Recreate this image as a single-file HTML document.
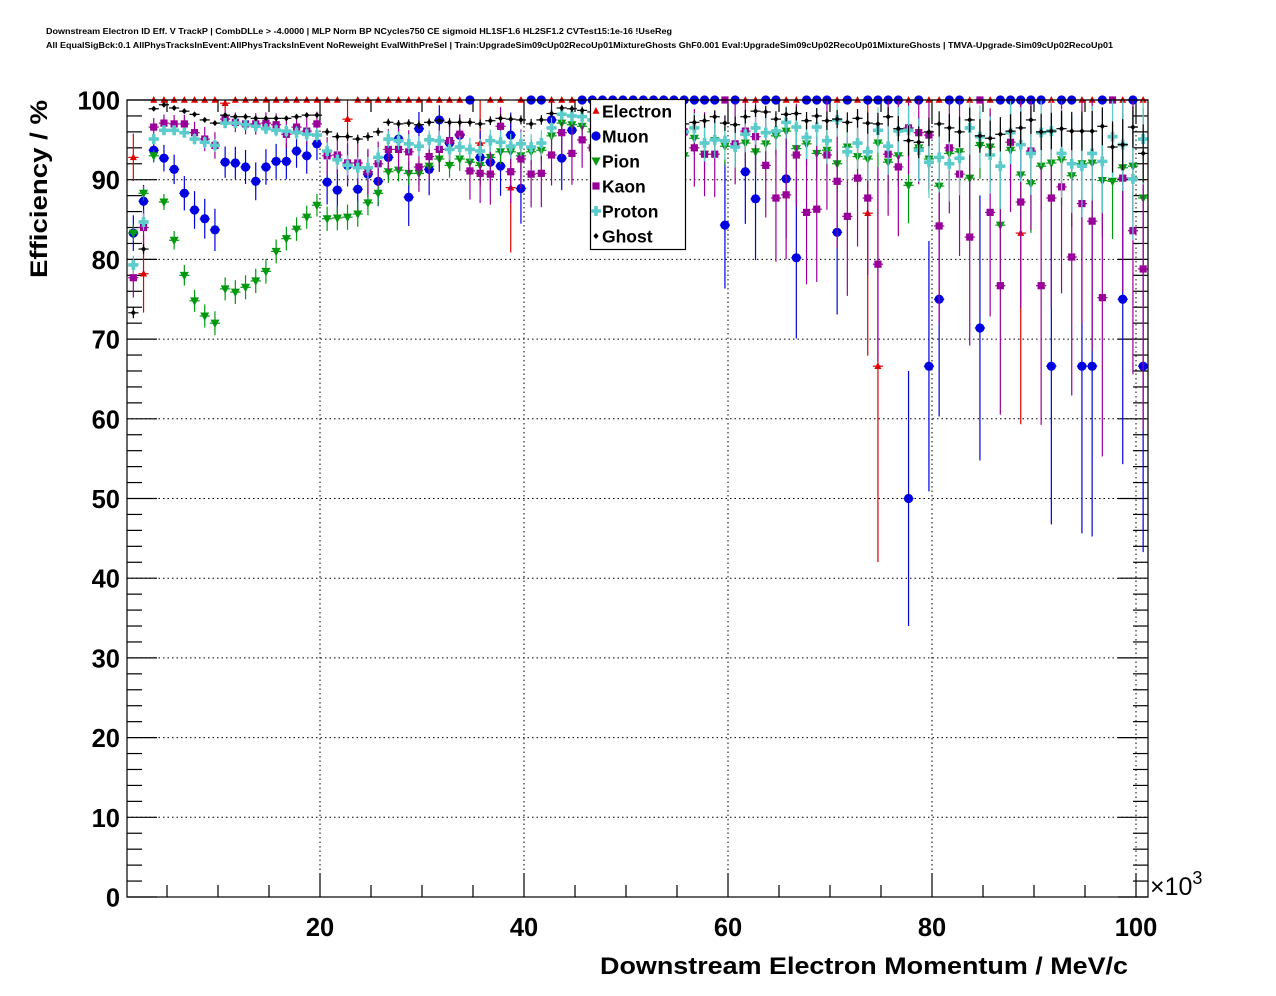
<!DOCTYPE html>
<html><head><meta charset="utf-8"><style>
html,body{margin:0;padding:0;background:#fff;}
svg{display:block;font-family:"Liberation Sans",Arial,sans-serif;}
</style></head><body>
<svg id="chart" width="1276" height="996" viewBox="0 0 1276 996" xmlns="http://www.w3.org/2000/svg">
<rect x="0" y="0" width="1276" height="996" fill="#fff"/>
<text x="46" y="34" font-size="8" font-weight="bold" textLength="626" lengthAdjust="spacingAndGlyphs">Downstream Electron ID Eff. V TrackP | CombDLLe &gt; -4.0000 | MLP Norm BP NCycles750 CE sigmoid HL1SF1.6 HL2SF1.2 CVTest15:1e-16 !UseReg</text>
<text x="46" y="48" font-size="8" font-weight="bold" textLength="1067" lengthAdjust="spacingAndGlyphs">All EqualSigBck:0.1 AllPhysTracksInEvent:AllPhysTracksInEvent NoReweight EvalWithPreSel | Train:UpgradeSim09cUp02RecoUp01MixtureGhosts GhF0.001 Eval:UpgradeSim09cUp02RecoUp01MixtureGhosts | TMVA-Upgrade-Sim09cUp02RecoUp01</text>
<g id="grid"></g>
<g id="axes"></g>
<g id="series"></g>
<rect x="127" y="100" width="1021" height="797" fill="none" stroke="#000" stroke-width="1.2"/>
<g id="legend"></g>
<text x="1128" y="974" text-anchor="end" font-size="24.5" font-weight="bold" textLength="528" lengthAdjust="spacingAndGlyphs">Downstream Electron Momentum / MeV/c</text>
<text transform="translate(47,278) rotate(-90)" x="0" y="0" font-size="24.5" font-weight="bold" textLength="178" lengthAdjust="spacingAndGlyphs">Efficiency / %</text>
<text x="1150" y="895" font-size="25">×10<tspan dy="-11" font-size="18">3</tspan></text>
</svg>
<script>
const xTicks = [20, 40, 60, 80, 100];
const xTickLabels = ["20", "40", "60", "80", "100"];
const yTicks = [0, 10, 20, 30, 40, 50, 60, 70, 80, 90, 100];
const yTickLabels = ["0", "10", "20", "30", "40", "50", "60", "70", "80", "90", "100"];
const binLow = 1.2;
const binWidth = 1.0;
const seriesNames = ["Electron", "Muon", "Pion", "Kaon", "Proton", "Ghost"];
const electron = [92.8,78.2,100,100,100,100,100,100,100,99.6,100,100,100,100,100,100,100,100,100,100,100,97.6,100,100,100,100,100,100,100,100,100,100,100,100,94.6,100,100,89,100,100,100,100,100,100,100,100,100,100,100,100,100,100,100,100,100,100,100,100,100,100,100,100,100,100,100,100,100,100,100,100,100,100,85.8,66.6,100,100,100,100,100,100,100,100,100,100,100,100,100,83.3,100,100,100,100,100,100,100,100,100,100,100,100];
const muon = [83.3,87.3,93.7,92.7,91.3,88.3,86.2,85.1,83.7,92.2,92.1,91.6,89.8,91.6,92.3,92.3,93.6,93,94.5,89.7,88.7,91.8,88.8,90.7,89.8,92.8,95.1,87.8,96.4,91.3,97.5,94.6,95.6,100,92.8,92.2,91.7,95.6,88.9,100,100,97.5,92.7,96.2,100,100,100,100,100,100,100,100,100,100,100,100,100,100,84.3,100,91,87.6,100,100,90.1,80.2,100,100,100,83.4,100,null,100,100,100,100,50,100,66.6,75,100,100,null,71.4,null,100,100,100,100,100,66.6,100,100,66.6,66.6,100,null,75,100,66.6];
const pion = [83.3,88.3,93,87.2,82.4,78,74.8,72.9,72,76.3,75.9,76.5,77.3,78.5,81,82.6,83.8,85.3,86.8,85.1,85.2,85.3,85.7,87.1,88.3,91,91.2,90.8,90.8,91.7,92.6,91.8,92.6,92.2,91.8,92.8,93.5,93.5,93,93.5,93.7,95.5,97.1,96.9,96.7,96,95.5,95,96,95.5,94.5,95,96,94,93,95.2,93.2,94.9,94.2,94.1,94.6,93.5,94.5,95.5,96.1,93.9,94.5,93.3,93.7,92,94.1,92.9,92.6,94.6,92.2,93,89.3,94,92.6,89.2,93.3,93.5,90.2,94.3,94.1,84.3,93.7,90.6,89.5,91.7,92.1,92.5,90.5,92,92.1,89.9,89.8,91.5,91.7,87.7];
const kaon = [77.7,84,96.6,97.1,97,97,95.9,95.1,94.3,97.6,97.2,97,97,97.1,96.9,95.7,96.6,96.1,97,93,93.1,92.1,92.1,91,92,93.8,93.8,93.5,91.6,92.9,93.8,94.9,95.7,91.1,90.8,90.7,96.7,91,92.6,90.7,90.8,93.1,95.9,93.3,95,94,93,95,96,94,95,92,93.5,95,96,94,93.2,93.2,100,94.5,96.1,95.4,91.8,87.7,88.1,93.1,85.9,86.3,93.1,89.8,85.4,90.2,87.7,79.4,93.2,91.6,96.5,95.9,95.6,84.2,94,90.7,82.8,100,85.9,76.7,94.7,87.2,93.6,76.7,87.7,89.1,80.3,87,84.8,75.2,100,90.2,83.6,78.8];
const proton = [79.3,84.7,95.1,96.2,96.2,95.9,95.1,94.7,94.3,97.1,97.1,96.9,96.7,96.4,96.2,96.1,95.9,95.7,95.6,93.6,92.5,91.8,91.5,91.5,92.8,95.1,94.9,94.5,94.2,95,94.9,93.8,94.1,93.8,93.6,94.9,94.7,94.2,94.5,94.1,94.6,96.5,98.2,98,97.9,97.5,97,96.5,97.5,96.8,96,97,96.5,96,96,96.5,94.6,95,94.9,94.1,95.7,96.5,95.9,96.1,97.2,96.6,95.3,96.6,94.9,97.5,93.5,94.6,93.5,96.2,94.2,96.1,96.2,93.7,92.2,92.8,92,92.7,96.5,95.4,93.1,91.7,95.9,94.4,93.3,95.9,96.1,93.3,92,91.7,93.3,92.3,95.4,94.4,90.1,95.1];
const ghost = [73.3,81.3,98.9,99.4,99,98.6,98.2,97.5,97.1,98.1,97.9,97.9,97.7,97.7,97.7,97.7,97.9,98.1,98.1,96,95.4,95.4,95.1,95.4,96,97.2,97,97.1,96.9,97.2,97.4,97.2,97.2,97.2,97,97.4,97.7,97.6,97.5,97,97.5,98.3,99,98.9,98.7,98.5,98.3,98,98,97.8,97.5,97.5,97.3,97,97,97.2,97.4,97.9,97.1,96.9,97.9,98.6,98.5,97.6,98.2,98.3,97.4,98,97.4,97.6,97.2,97.7,97.1,97,97.9,96.4,94.9,94.7,96,97,96.5,96,97.5,95.5,95.2,95.7,96.1,96.5,97.5,96,96.1,96.4,96.1,96.1,96.1,96.7,94.1,94.4,96.6,93.3];
const statScale = [80, 300, 1400, 300, 1300, 4500];

const NS = "http://www.w3.org/2000/svg";
const X0 = 127, X1 = 1148, Y0 = 897, Y1 = 100;
function xs(v){ return 116 + 10.2 * v; }
function ys(v){ return 897 - 7.97 * v; }
function mk(tag, attrs, parent){
  const e = document.createElementNS(NS, tag);
  for (const k in attrs) e.setAttribute(k, attrs[k]);
  parent.appendChild(e);
  return e;
}
const grid = document.getElementById('grid');
const axes = document.getElementById('axes');
const ser = document.getElementById('series');
const leg = document.getElementById('legend');

yTicks.forEach(t => {
  if (t === 0 || t === 100) return;
  const l = mk('line', {x1:X0, x2:X1, y1:ys(t), y2:ys(t), stroke:'#000', 'stroke-width':1, 'stroke-dasharray':'1.5,3'}, grid);
  
  
});
xTicks.forEach(t => {
  const l = mk('line', {x1:xs(t), x2:xs(t), y1:Y0, y2:Y1, stroke:'#000', 'stroke-width':1, 'stroke-dasharray':'1.5,3'}, grid);
  
  
});
for (let v = 0; v <= 100; v += 2) {
  const len = (v % 10 === 0) ? 30 : 15;
  const a = mk('line', {x1:X0, x2:X0+len, y1:ys(v), y2:ys(v), stroke:'#000', 'stroke-width':1.2}, axes);
  
  
  const b = mk('line', {x1:X1, x2:X1-len, y1:ys(v), y2:ys(v), stroke:'#000', 'stroke-width':1.2}, axes);
  
  
}
for (let v = 5; v <= 100; v += 5) {
  const len = (v % 20 === 0) ? 24 : 12;
  const a = mk('line', {x1:xs(v), x2:xs(v), y1:Y0, y2:Y0-len, stroke:'#000', 'stroke-width':1.2}, axes);
  
  
  const b = mk('line', {x1:xs(v), x2:xs(v), y1:Y1, y2:Y1+len, stroke:'#000', 'stroke-width':1.2}, axes);
  
  
}
yTicks.forEach((t, i) => {
  const tx = mk('text', {x:120, y:ys(t)+9.5, 'text-anchor':'end', 'font-size':25.5, 'font-weight':'bold'}, axes);
  tx.textContent = yTickLabels[i];
  
  
});
xTicks.forEach((t, i) => {
  const tx = mk('text', {x:xs(t), y:936, 'text-anchor':'middle', 'font-size':25.5, 'font-weight':'bold'}, axes);
  tx.textContent = xTickLabels[i];
  
  
});

const colors = ['#e00000', '#0000e0', '#00990f', '#990099', '#5ccbcb', '#000000'];
function marker(kind, cx, cy, parent, col){
  let e;
  if (kind === 0) e = mk('polygon', {points:`${cx},${cy-4} ${cx-3.5},${cy+2.8} ${cx+3.5},${cy+2.8}`, fill:col}, parent);
  else if (kind === 1) e = mk('circle', {cx:cx, cy:cy, r:4.6, fill:col}, parent);
  else if (kind === 2) e = mk('polygon', {points:`${cx},${cy+5} ${cx-4.5},${cy-3.5} ${cx+4.5},${cy-3.5}`, fill:col}, parent);
  else if (kind === 3) e = mk('rect', {x:cx-3.6, y:cy-3.6, width:7.2, height:7.2, fill:col}, parent);
  else if (kind === 4) e = mk('path', {d:`M${cx-1.8},${cy-5}h3.6v3.2h3.2v3.6h-3.2v3.2h-3.6v-3.2h-3.2v-3.6h3.2z`, fill:col}, parent);
  else e = mk('polygon', {points:`${cx},${cy-3} ${cx+2.6},${cy} ${cx},${cy+3} ${cx-2.6},${cy}`, fill:col}, parent);
  return e;
}
const allSeries = [electron, muon, pion, kaon, proton, ghost];
allSeries.forEach((vals, s) => {
  const g = mk('g', {}, ser);
  
  
  const col = colors[s];
  vals.forEach((v, i) => {
    if (v === null) return;
    const xc = binLow + binWidth * (i + 0.5);
    const cx = xs(xc), cy = ys(v);
    const N = statScale[s] * Math.exp(-xc / 22) + 1;
    let lo, hi;
    if (v >= 99.95) { lo = 0; hi = 0; }
    else {
      const e = Math.sqrt(v * (100 - v) / N);
      lo = e; hi = Math.min(e, 100 - v);
    }
    const eb = mk('line', {x1:cx, x2:cx, y1:ys(Math.max(0, v - lo)), y2:ys(v + hi), stroke:col, 'stroke-width':1.2}, g);
    
    
    const hb = mk('line', {x1:xs(xc - binWidth/2), x2:xs(xc + binWidth/2), y1:cy, y2:cy, stroke:col, 'stroke-width':1.2}, g);
    
    
    const m = marker(s, cx, cy, g, col);
    
    
  });
});

const box = mk('rect', {x:590.5, y:99.5, width:95, height:150, fill:'#fff', stroke:'#000', 'stroke-width':1.2}, leg);


seriesNames.forEach((n, s) => {
  const y = 111 + s * 25;
  const g = mk('g', {}, leg);
  
  
  marker(s, 596, y, g, colors[s]);
  const t = mk('text', {x:602, y:y+6.5, 'font-size':17.5, 'font-weight':'bold'}, g);
  t.textContent = n;
  
  
});
</script>
</body></html>
